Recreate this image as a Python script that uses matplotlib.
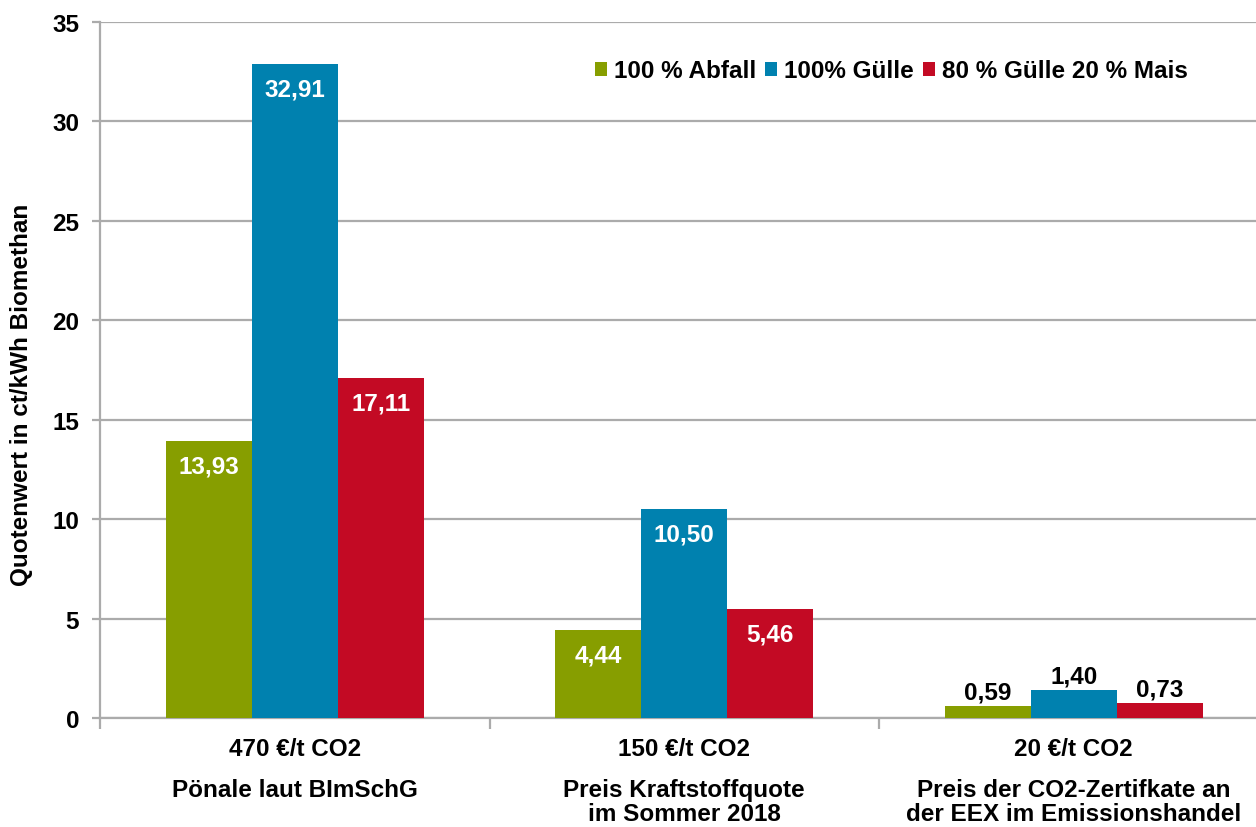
import matplotlib
matplotlib.use("Agg")
import matplotlib.pyplot as plt
import matplotlib.transforms as mtransforms
import numpy as np

plt.rcParams['font.family'] = ['Liberation Sans', 'DejaVu Sans']
plt.rcParams['font.weight'] = 'bold'

# Data
scenarios = ["470 €/t CO2", "150 €/t CO2", "20 €/t CO2"]
descriptions = ["Pönale laut BImSchG",
                "Preis Kraftstoffquote\nim Sommer 2018",
                "Preis der CO2-Zertifkate an\nder EEX im Emissionshandel"]
series = ["100 % Abfall", "100% Gülle", "80 % Gülle 20 % Mais"]
abfall = [13.93, 4.44, 0.59]
guelle = [32.91, 10.50, 1.40]
guelle_mais = [17.11, 5.46, 0.73]
colors = ["#879E00", "#0081AF", "#C30A24"]
yticks = [0, 5, 10, 15, 20, 25, 30, 35]

W, H = 1256, 828
fig = plt.figure(figsize=(W / 100, H / 100), dpi=100)
ax_left, ax_bottom = 100 / W, 1 - 719 / H
ax_w, ax_h = 1168.5 / W, (719 - 23) / H
ax = fig.add_axes([ax_left, ax_bottom, ax_w, ax_h])

FS = 17.5
grid_c = "#ABABAB"
x = np.arange(len(scenarios))
bw = 0.221
values = [abfall, guelle, guelle_mais]

for i, (vals, name, col) in enumerate(zip(values, series, colors)):
    xs = x + (i - 1) * bw
    ax.bar(xs, vals, width=bw, color=col, label=name, zorder=3)
    for xb, v in zip(xs, vals):
        label = f"{v:.2f}".replace(".", ",")
        if v > 3:
            ax.annotate(label, (xb, v), xytext=(0, -18), textcoords="offset points",
                        ha="center", va="center", color="white",
                        fontsize=FS, fontweight="bold", zorder=4)
        else:
            ax.annotate(label, (xb, v), xytext=(0, 2), textcoords="offset points",
                        ha="center", va="bottom", color="black",
                        fontsize=FS, fontweight="bold", zorder=4)

ax.set_xlim(-0.5, 2.5)
ax.set_ylim(0, 35)
ax.set_yticks(yticks)
ax.set_yticklabels([str(t) for t in yticks], fontsize=FS, fontweight="bold")
ax.yaxis.grid(True, color=grid_c, linewidth=1.6, zorder=0)
ax.set_axisbelow(True)
ax.tick_params(axis="y", length=6, width=1.6, color=grid_c, pad=9)

ax.set_xticks([-0.5, 0.5, 1.5, 2.5])
ax.set_xticklabels([])
ax.tick_params(axis="x", length=8, width=1.6, color=grid_c)

for side in ("top", "right"):
    ax.spines[side].set_visible(False)
for side in ("left", "bottom"):
    ax.spines[side].set_color(grid_c)
    ax.spines[side].set_linewidth(1.6)

# Category labels below the axis
trans = mtransforms.blended_transform_factory(ax.transData, ax.transAxes)
for xi, head, desc in zip(x, scenarios, descriptions):
    ax.annotate(head, (xi, 0), xycoords=trans, xytext=(0, -31 * 0.72),
                textcoords="offset points", ha="center", va="center",
                fontsize=FS, fontweight="bold", annotation_clip=False)
    ax.annotate(desc, (xi, 0), xycoords=trans, xytext=(0, -60 * 0.72),
                textcoords="offset points", ha="center", va="top",
                fontsize=FS, fontweight="bold", linespacing=1.08,
                annotation_clip=False)

fig.text(22 / W, 1 - 395 / H, "Quotenwert in ct/kWh Biomethan", rotation=90,
         ha="center", va="center", fontsize=FS, fontweight="bold")

leg = fig.legend(loc="center right", bbox_to_anchor=(1188 / W, 1 - 72 / H),
                 ncol=3, frameon=False, fontsize=FS, handlelength=0.5,
                 handleheight=0.5, handletextpad=0.3, columnspacing=0.35,
                 borderaxespad=0, borderpad=0)
for t in leg.get_texts():
    t.set_fontweight("bold")

fig.savefig("out.png", dpi=100)
